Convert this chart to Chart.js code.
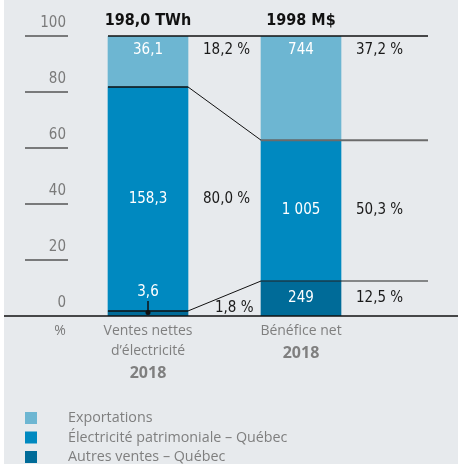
<!DOCTYPE html>
<html>
<head>
<meta charset="utf-8">
<script src="https://cdn.jsdelivr.net/npm/chart.js@4.4.1/dist/chart.umd.min.js"></script>
<style>
  html, body { margin: 0; padding: 0; background: #fff; }
  canvas { display: block; }
</style>
</head>
<body>
<canvas id="chart" width="458" height="464"></canvas>
<script>
// data, bottom segment first
const categories = ['Ventes nettes|d’électricité', 'Bénéfice net'];
const years = ['2018', '2018'];
const totals = ['198,0 TWh', '1998 M$'];
const seriesNames = ['Autres ventes – Québec', 'Électricité patrimoniale – Québec', 'Exportations'];
const autresPct = [1.8, 12.5];
const patrimonialePct = [80.0, 50.3];
const exportationsPct = [18.2, 37.2];
const autresVal = ['3,6', '249'];
const patrimonialeVal = ['158,3', '1 005'];
const exportationsVal = ['36,1', '744'];
const yTicks = [0, 20, 40, 60, 80, 100];

const colors = ['#006b98', '#0089c0', '#6db6d2'];
const BG = '#e7eaed';
const NARROW = "'Liberation Sans Narrow', 'DejaVu Sans Condensed', sans-serif";
const SANS = "'Open Sans', 'Noto Sans', sans-serif";

const pcts = [autresPct, patrimonialePct, exportationsPct];
const vals = [autresVal, patrimonialeVal, exportationsVal];

function fmtPct(v) {
  return v.toFixed(1).replace('.', ',') + ' %';
}

const overlay = {
  id: 'overlay',
  beforeDraw(chart) {
    const ctx = chart.ctx;
    ctx.save();
    ctx.fillStyle = '#fff';
    ctx.fillRect(0, 0, chart.width, chart.height);
    ctx.fillStyle = BG;
    ctx.fillRect(4, 0, chart.width - 4, chart.height);
    ctx.restore();
  },
  afterDatasetsDraw(chart) {
    const ctx = chart.ctx;
    const x = chart.scales.x;
    const y = chart.scales.y;
    const lineEnd = 428;
    ctx.save();

    // y ticks: short lines with labels above
    ctx.font = '15px ' + NARROW;
    ctx.fillStyle = '#7a7a7a';
    ctx.textAlign = 'right';
    ctx.textBaseline = 'middle';
    yTicks.forEach(t => {
      const py = y.getPixelForValue(t);
      ctx.fillText(String(t), 66, py - 13);
      if (t > 0) {
        ctx.strokeStyle = '#555';
        ctx.lineWidth = 1.5;
        ctx.beginPath();
        ctx.moveTo(25, py);
        ctx.lineTo(68, py);
        ctx.stroke();
      }
    });
    ctx.textAlign = 'center';
    ctx.font = '14px ' + SANS;
    ctx.fillText('%', 60, 331);

    // bar geometry from the library
    const bars = chart.getDatasetMeta(0).data.map((b, i) => {
      const props = b.getProps(['x', 'width'], true);
      return { left: props.x - props.width / 2, right: props.x + props.width / 2, cx: props.x };
    });

    // boundaries between segments
    const bounds = [0, 1].map(k => categories.map((c, i) => {
      let s = 0;
      for (let d = 0; d <= k; d++) s += pcts[d][i];
      return y.getPixelForValue(s);
    }));

    // top line
    ctx.strokeStyle = '#111';
    ctx.lineWidth = 1.5;
    ctx.beginPath();
    ctx.moveTo(bars[0].left, y.getPixelForValue(100));
    ctx.lineTo(lineEnd, y.getPixelForValue(100));
    ctx.stroke();

    // boundary across bar 1 and connectors
    bounds.forEach((b, k) => {
      ctx.strokeStyle = '#111';
      ctx.lineWidth = 1.5;
      ctx.beginPath();
      ctx.moveTo(bars[0].left, b[0]);
      ctx.lineTo(bars[0].right, b[0]);
      ctx.stroke();
      ctx.lineWidth = 1;
      ctx.beginPath();
      ctx.moveTo(bars[0].right, b[0]);
      ctx.lineTo(bars[1].left, b[1]);
      ctx.stroke();
      ctx.strokeStyle = k === 1 ? '#6b6b6b' : '#222';
      ctx.lineWidth = k === 1 ? 2 : 1.2;
      ctx.beginPath();
      ctx.moveTo(bars[1].left, b[1]);
      ctx.lineTo(lineEnd, b[1]);
      ctx.stroke();
    });

    // baseline
    ctx.strokeStyle = '#111';
    ctx.lineWidth = 1.5;
    ctx.beginPath();
    ctx.moveTo(4, y.getPixelForValue(0));
    ctx.lineTo(chart.width, y.getPixelForValue(0));
    ctx.stroke();

    // value and percent labels
    ctx.font = '15px ' + NARROW;
    ctx.textBaseline = 'middle';
    pcts.forEach((series, d) => {
      series.forEach((p, i) => {
        let start = 0;
        for (let k = 0; k < d; k++) start += pcts[k][i];
        const top = y.getPixelForValue(start + p);
        const bottom = y.getPixelForValue(start);
        const bar = bars[i];
        let vy, py, px = bar.right + 15;
        if (d === pcts.length - 1) {
          vy = top + 14; py = vy;
        } else if (bottom - top < 20) {
          vy = top - 19; py = bottom - 8; px = bar.right + 27;
          ctx.strokeStyle = '#111';
          ctx.lineWidth = 1.5;
          ctx.beginPath();
          ctx.moveTo(bar.cx, vy + 9);
          ctx.lineTo(bar.cx, top + 1);
          ctx.stroke();
          ctx.fillStyle = '#111';
          ctx.beginPath();
          ctx.arc(bar.cx, top + 1.5, 2.5, 0, Math.PI * 2);
          ctx.fill();
        } else {
          vy = (top + bottom) / 2; py = vy;
        }
        ctx.fillStyle = '#fff';
        ctx.textAlign = 'center';
        ctx.fillText(vals[d][i], bar.cx, vy);
        ctx.fillStyle = '#1a1a1a';
        ctx.textAlign = 'left';
        ctx.fillText(fmtPct(p), px, py);
      });
    });

    // totals above bars
    ctx.font = 'bold 16px ' + NARROW;
    ctx.fillStyle = '#111';
    ctx.textAlign = 'center';
    totals.forEach((t, i) => ctx.fillText(t, bars[i].cx, 21));

    // category labels
    categories.forEach((c, i) => {
      const cx = x.getPixelForValue(i);
      const lines = c.split('|');
      ctx.font = '14px ' + SANS;
      ctx.fillStyle = '#7f7f7f';
      lines.forEach((l, j) => ctx.fillText(l, cx, 331 + j * 20));
      ctx.font = 'bold 16px ' + SANS;
      ctx.fillText(years[i], cx, 331 + lines.length * 20 + 2);
    });

    // legend, top series first
    ctx.font = '14.3px ' + SANS;
    ctx.textAlign = 'left';
    const order = [2, 1, 0];
    order.forEach((d, j) => {
      const ly = 418 + j * 19.5;
      ctx.fillStyle = colors[d];
      ctx.fillRect(25, ly - 6, 12, 12);
      ctx.fillStyle = '#7f7f7f';
      ctx.fillText(seriesNames[d], 68, ly);
    });

    ctx.restore();
  }
};

new Chart(document.getElementById('chart'), {
  type: 'bar',
  data: {
    labels: categories,
    datasets: pcts.map((p, d) => ({
      label: seriesNames[d],
      data: p,
      backgroundColor: colors[d],
      borderWidth: 0,
      barThickness: 80,
    })),
  },
  options: {
    responsive: false,
    devicePixelRatio: 1,
    animation: false,
    layout: { padding: { left: 71.5, right: 80.5, top: 36, bottom: 148 } },
    plugins: { legend: { display: false }, tooltip: { enabled: false } },
    scales: {
      x: { stacked: true, display: false },
      y: { stacked: true, display: false, min: 0, max: 100 },
    },
  },
  plugins: [overlay],
});
</script>
</body>
</html>
